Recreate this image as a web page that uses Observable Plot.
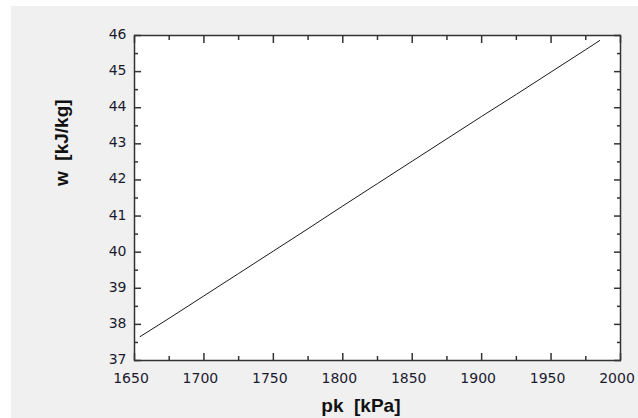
<!DOCTYPE html>
<html>
<head>
<meta charset="utf-8">
<script src="https://cdn.jsdelivr.net/npm/d3@7"></script>
<script src="https://cdn.jsdelivr.net/npm/@observablehq/plot@0.6"></script>
<style>
  html, body { margin: 0; padding: 0; background: #ffffff; }
  #chart { position: absolute; left: 11px; top: 6px; width: 627px; height: 412px; background: #f0f0f0; }
  #chart svg { display: block; }
</style>
</head>
<body>
<div id="chart"></div>
<script>
// Data
const pk = [1654, 1675, 1700, 1725, 1750, 1775, 1800, 1825, 1850, 1875, 1900, 1925, 1950, 1975, 1985];
const w  = [37.66, 38.17, 38.79, 39.41, 40.03, 40.65, 41.28, 41.90, 42.52, 43.14, 43.76, 44.37, 44.99, 45.61, 45.86];

const xMajorTicks = [1650, 1700, 1750, 1800, 1850, 1900, 1950, 2000];
const xMinorTicks = [1675, 1725, 1775, 1825, 1875, 1925, 1975];
const yMajorTicks = [37, 38, 39, 40, 41, 42, 43, 44, 45, 46];
const yMinorTicks = [37.5, 38.5, 39.5, 40.5, 41.5, 42.5, 43.5, 44.5, 45.5];

const xTitle = "pk  [kPa]";
const yTitle = "w  [kJ/kg]";

const data = pk.map((p, i) => ({p, w: w[i]}));

const tickColor = "#333333";
const labelColor = "#1b1b2f";
const plain = d => String(d);

const chart = Plot.plot({
  width: 627,
  height: 412,
  marginLeft: 123,
  marginRight: 18,
  marginTop: 29,
  marginBottom: 58,
  style: {background: "#f0f0f0", fontFamily: "DejaVu Sans, Verdana, sans-serif", fontSize: "14px", color: labelColor},
  x: {domain: [1650, 2000]},
  y: {domain: [37, 46]},
  marks: [
    Plot.frame({fill: "white", stroke: null}),
    Plot.line(data, {x: "p", y: "w", stroke: "#1a1a1a", strokeWidth: 1}),
    // inward ticks, all four sides
    Plot.axisX(xMajorTicks, {anchor: "bottom", tickSize: -7, text: null, label: null, stroke: tickColor, strokeWidth: 1.5}),
    Plot.axisX(xMinorTicks, {anchor: "bottom", tickSize: -4, text: null, label: null, stroke: tickColor, strokeWidth: 1.5}),
    Plot.axisX(xMajorTicks, {anchor: "top", tickSize: -7, text: null, label: null, stroke: tickColor, strokeWidth: 1.5}),
    Plot.axisX(xMinorTicks, {anchor: "top", tickSize: -4, text: null, label: null, stroke: tickColor, strokeWidth: 1.5}),
    Plot.axisY(yMajorTicks, {anchor: "left", tickSize: -7, text: null, label: null, stroke: tickColor, strokeWidth: 1.5}),
    Plot.axisY(yMinorTicks, {anchor: "left", tickSize: -4, text: null, label: null, stroke: tickColor, strokeWidth: 1.5}),
    Plot.axisY(yMajorTicks, {anchor: "right", tickSize: -7, text: null, label: null, stroke: tickColor, strokeWidth: 1.5}),
    Plot.axisY(yMinorTicks, {anchor: "right", tickSize: -4, text: null, label: null, stroke: tickColor, strokeWidth: 1.5}),
    // tick labels
    Plot.axisX(xMajorTicks, {anchor: "bottom", tickSize: 0, tickPadding: 13, dx: -3.5, label: null, tickFormat: plain, fill: labelColor, fontSize: 14}),
    Plot.axisY(yMajorTicks, {anchor: "left", tickSize: 0, tickPadding: 8, dy: -1, label: null, tickFormat: plain, fill: labelColor, fontSize: 14}),
    // axis titles
    Plot.text([xTitle], {text: d => d, frameAnchor: "bottom", lineAnchor: "bottom", dy: 51, dx: -16.6,
      fontFamily: "Liberation Sans, Arial, sans-serif", fontWeight: "bold", fontSize: 19, fill: "#111"}),
    Plot.text([yTitle], {text: d => d, frameAnchor: "left", lineAnchor: "bottom", rotate: -90, dx: -66.3, dy: -12,
      fontFamily: "Liberation Sans, Arial, sans-serif", fontWeight: "bold", fontSize: 19, fill: "#111"}),
    Plot.frame({stroke: tickColor, strokeWidth: 1.5})
  ]
});

document.getElementById("chart").appendChild(chart);
</script>
</body>
</html>
